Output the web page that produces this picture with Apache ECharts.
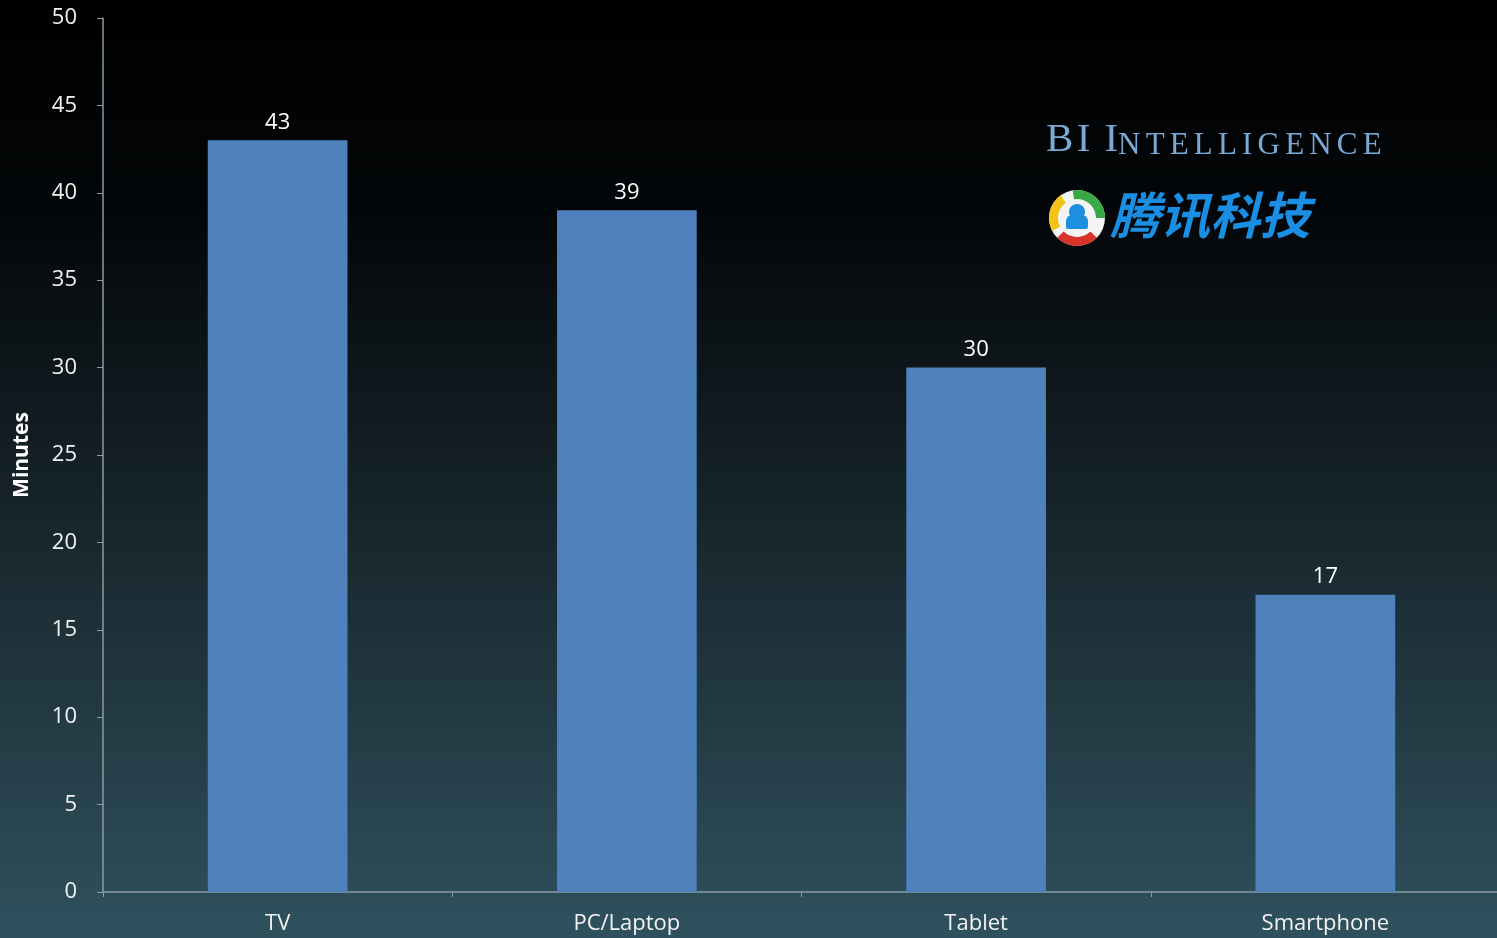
<!DOCTYPE html>
<html><head><meta charset="utf-8">
<script src="https://cdn.jsdelivr.net/npm/echarts@6/dist/echarts.min.js"></script>
<style>html,body{margin:0;padding:0;background:#000;}#c{width:1497px;height:938px;}</style>
</head><body><div id="c"></div>
<script>
const categories = ['TV', 'PC/Laptop', 'Tablet', 'Smartphone'];
const minutes = [43, 39, 30, 17];
const yTicks = [0, 5, 10, 15, 20, 25, 30, 35, 40, 45, 50];

const chart = echarts.init(document.getElementById('c'));
const font = '"Open Sans", Lato, sans-serif';
const serif = '"Liberation Serif", "DejaVu Serif", serif';
const hs = '\u200A';
chart.setOption({
  animation: false,
  backgroundColor: {
    type: 'linear', x: 0, y: 0, x2: 0, y2: 1,
    colorStops: [
      { offset: 0, color: '#000000' },
      { offset: 0.22, color: '#030608' },
      { offset: 0.6, color: '#1a2a31' },
      { offset: 1, color: '#2f515e' }
    ]
  },
  grid: { left: 103, right: -3, top: 18, bottom: 46, containLabel: false, outerBoundsMode: 'none' },
  xAxis: {
    type: 'category',
    data: categories,
    axisLine: { lineStyle: { color: '#8b9ba1', width: 1.5 } },
    axisTick: { show: true, length: 5, lineStyle: { color: '#8b9ba1' } },
    axisLabel: { color: '#f2f2f2', fontSize: 22, fontWeight: 500, fontFamily: font, margin: 21 },
    splitLine: { show: false }
  },
  yAxis: {
    type: 'value', min: yTicks[0], max: yTicks[yTicks.length - 1], interval: 5,
    name: 'Minutes', nameLocation: 'middle', nameGap: 70, nameRotate: 90,
    nameTextStyle: { color: '#ffffff', fontSize: 21, fontWeight: 'bold', fontFamily: font },
    axisLine: { show: true, lineStyle: { color: '#8b9ba1', width: 1.5 } },
    axisTick: { show: true, length: 6, lineStyle: { color: '#8b9ba1' } },
    axisLabel: { color: '#f2f2f2', fontSize: 22, fontWeight: 500, fontFamily: font, margin: 26 },
    splitLine: { show: false }
  },
  series: [{
    type: 'bar',
    data: minutes,
    barWidth: '40%',
    itemStyle: { color: '#4f81bd' },
    label: { show: true, position: 'top', color: '#ffffff', fontSize: 22, fontWeight: 500, fontFamily: font, distance: 7 }
  }],
  graphic: [
    {
      type: 'text', left: 1046, top: 120,
      style: {
        text: '{b|B' + hs + 'I}{sp|  }{b|I}{s|' + 'NTELLIGENCE'.split('').join(hs + hs) + '}',
        rich: {
          b: { fontSize: 41, fontFamily: serif, fill: '#7aa9d6', verticalAlign: 'bottom' },
          sp: { fontSize: 28, fontFamily: serif, verticalAlign: 'bottom' },
          s: { fontSize: 31, fontFamily: serif, fill: '#7aa9d6', verticalAlign: 'bottom' }
        }
      }
    },
    { type: 'circle', shape: { cx: 1077, cy: 218, r: 28 }, style: { fill: '#f4f4f4' } },
    { type: 'sector', shape: { cx: 1077, cy: 218, r: 28, r0: 19, startAngle: -Math.PI * 0.55, endAngle: Math.PI * 0.0 }, style: { fill: '#3aa845' } },
    { type: 'sector', shape: { cx: 1077, cy: 218, r: 28, r0: 19, startAngle: Math.PI * 0.25, endAngle: Math.PI * 0.75 }, style: { fill: '#d7332a' } },
    { type: 'sector', shape: { cx: 1077, cy: 218, r: 28, r0: 19, startAngle: Math.PI * 0.85, endAngle: Math.PI * 1.3 }, style: { fill: '#f2c418' } },
    { type: 'circle', shape: { cx: 1077, cy: 212, r: 8 }, style: { fill: '#1c8fe0' } },
    { type: 'rect', shape: { x: 1066, y: 215, width: 22, height: 14, r: [6, 6, 2, 2] }, style: { fill: '#1c8fe0' } },
    {
      type: 'text', left: 1110, top: 190,
      style: {
        text: '腾讯科技', fill: '#1a8ee2',
        font: 'italic bold 50px "Noto Sans CJK SC", sans-serif'
      }
    }
  ]
});
</script>
</body></html>
